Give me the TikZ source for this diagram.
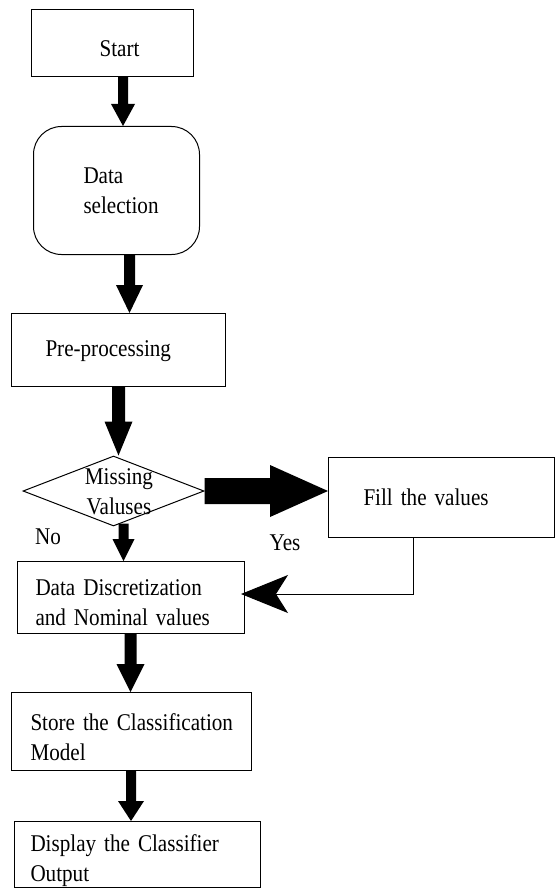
\documentclass[tikz,border=0pt]{standalone}
\usepackage{fontspec}
\setmainfont{Liberation Serif}[FakeStretch=0.88]
\usetikzlibrary{calc,shapes.geometric,arrows.meta}
\newcommand\nodefont{\fontsize{24}{30}\selectfont\spaceskip=4.2pt\relax}
% vertical block arrow (downwards): from, to, shaft half width, head half width, head length
\newcommand\varrow[5]{%
  \fill ($(#1)+(-#3,0)$) -- ($(#2)+(-#3,-#5)$) -- ($(#2)+(-#4,-#5)$) -- (#2)
     -- ($(#2)+(#4,-#5)$) -- ($(#2)+(#3,-#5)$) -- ($(#1)+(#3,0)$) -- cycle;}
% horizontal block arrow (to the right)
\newcommand\harrow[5]{%
  \fill ($(#1)+(0,-#3)$) -- ($(#2)+(-#5,-#3)$) -- ($(#2)+(-#5,-#4)$) -- (#2)
     -- ($(#2)+(-#5,#4)$) -- ($(#2)+(-#5,#3)$) -- ($(#1)+(0,#3)$) -- cycle;}
\begin{document}
\begin{tikzpicture}[x=1pt,y=-1pt,
  every node/.style={font=\nodefont, text=black},
  box/.style={draw, line width=1pt, rectangle, anchor=north west, align=left,
              inner xsep=0pt, inner ysep=0pt},
  lbl/.style={inner sep=0pt}]
\useasboundingbox (0,0) rectangle (556,888);

% boxes
\node[box, align=center, text width=162pt, minimum height=67pt] (start) at (31,9)
  {\rule{0pt}{27pt}\hspace*{14pt}Start};
\node[box, rounded corners=28pt, text width=166pt, minimum height=128pt] (ds) at (33,126)
  {\hspace*{50pt}Data\\\hspace*{50pt}selection};
\node[box, text width=214pt, minimum height=73pt] (pre) at (11,313)
  {\rule{0pt}{19pt}\hspace*{34pt}Pre-processing};
\node[draw, diamond, line width=1pt, minimum width=181pt, minimum height=70pt, inner sep=0pt]
  (dia) at (113.5,491) {};
\node[lbl, align=center] (diat) at (119,492) {Missing\\Valuses};
\node[box, text width=226pt, minimum height=80pt] (fill) at (328,457)
  {\hspace*{35pt}Fill the values};
\node[box, text width=227pt, minimum height=72pt] (dd) at (17,561)
  {\rule{0pt}{26pt}\hspace*{18pt}Data Discretization\\\hspace*{18pt}and Nominal values};
\node[box, text width=240pt, minimum height=78pt] (store) at (11,692)
  {\rule{0pt}{28pt}\hspace*{19pt}Store the Classification\\\hspace*{19pt}Model};
\node[box, text width=246pt, minimum height=66pt] (disp) at (14,821)
  {\rule{0pt}{29pt}\hspace*{16pt}Display the Classifier\\\hspace*{16pt}Output};

% labels
\node[lbl] (no) at (48,537) {No};
\node[lbl] (yes) at (285,543) {Yes};

% block arrows
\coordinate (a1s) at ($(start.south west)+(92,0)$);
\coordinate (a1e) at (a1s |- ds.north);
\varrow{a1s}{a1e}{5}{12}{22}

\coordinate (a2s) at ($(ds.south west)+(96.5,0)$);
\coordinate (a2e) at (a2s |- pre.north);
\varrow{a2s}{a2e}{5.5}{13.5}{28}

\coordinate (a3s) at ($(pre.south west)+(107.5,0)$);
\coordinate (a3e) at (a3s |- dia.north);
\varrow{a3s}{a3e}{6.5}{14}{34}

\coordinate (n1s) at ($(dia.south)+(10,-3)$);
\coordinate (n1e) at (n1s |- dd.north);
\varrow{n1s}{n1e}{5}{11}{22}

\coordinate (a4s) at ($(dd.south west)+(113.5,0)$);
\coordinate (a4e) at (a4s |- store.north);
\varrow{a4s}{a4e}{6}{14}{28}

\coordinate (a5s) at ($(store.south west)+(120,0)$);
\coordinate (a5e) at (a5s |- disp.north);
\varrow{a5s}{a5e}{5}{13}{20}

\coordinate (bs) at (dia.east);
\coordinate (be) at (bs -| fill.west);
\harrow{bs}{be}{13}{26}{58}

% feedback connector
\coordinate (fb) at ($(fill.south west)+(85,0)$);
\coordinate (fbe) at ($(dd.north east)+(-4,33)$);
\draw[line width=1pt, -{Stealth[length=47pt,width=38pt,inset=12pt]}] (fb) |- (fbe);
\end{tikzpicture}
\end{document}
